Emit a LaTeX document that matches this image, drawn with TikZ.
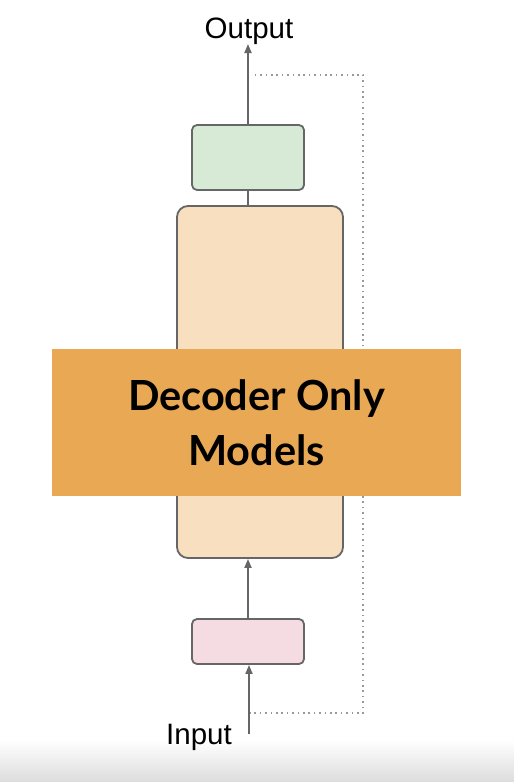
\documentclass[tikz,border=0pt]{standalone}
\usepackage{fontspec}
\setmainfont{Liberation Sans}
\newfontfamily\latofont{Lato}
\usetikzlibrary{arrows.meta}
\definecolor{edgegray}{HTML}{666666}
\definecolor{greenfill}{HTML}{D7EAD6}
\definecolor{pinkfill}{HTML}{F5DCE3}
\definecolor{peachfill}{HTML}{F7DFC0}
\definecolor{bannerfill}{HTML}{E9A954}
\definecolor{stripgray}{HTML}{DCDCDC}
\tikzset{
  blockbox/.style={draw=edgegray, line width=1.8pt, rounded corners=5pt},
  conn/.style={draw=edgegray, line width=1.8pt},
  arr/.style={conn, -{Triangle[length=9pt,width=7pt]}},
  dotline/.style={draw=gray!80, line width=1.8pt, dash pattern=on 1.6pt off 3.8pt},
  lbl/.style={font=\fontsize{29.5}{33}\selectfont, text=black, inner sep=0pt}
}
\begin{document}
\begin{tikzpicture}[x=1pt,y=-1pt]
\useasboundingbox (0,0) rectangle (514,782);
\fill[white] (0,0) rectangle (514,782);
\shade[top color=white, bottom color=stripgray] (0,740) rectangle (514,782);
% dotted feedback loop
\coordinate (dA) at (249,713);
\coordinate (dB) at (363,713);
\coordinate (dC) at (363,75);
\coordinate (dD) at (253,75);
\draw[dotline] (dA) -- (dB) -- (dC) -- (dD);
% boxes
\node[blockbox, fill=greenfill, minimum width=112pt, minimum height=65pt, inner sep=0pt] (green) at (248,157.5) {};
\node[blockbox, fill=peachfill, rounded corners=11pt, minimum width=166pt, minimum height=352pt, inner sep=0pt] (dec) at (260,382) {};
\node[blockbox, fill=pinkfill, minimum width=112pt, minimum height=45pt, inner sep=0pt] (pink) at (248,641.5) {};
% labels
\node[lbl, anchor=base] (out) at (249,38) {Output};
\node[lbl, anchor=base] (in) at (199,744) {Input};
\coordinate (inStart) at (249,734);
\coordinate (outEnd) at (248,44);
% connectors
\draw[arr] (green.north) -- (outEnd);
\draw[conn] (green.south) -- (green.south |- dec.north);
\draw[arr] (pink.north) -- (pink.north |- dec.south);
\draw[arr] (inStart) -- (inStart |- pink.south);
% banner
\node[fill=bannerfill, minimum width=409pt, minimum height=147pt, inner sep=0pt, align=center, text=black,
  font=\latofont\bfseries\fontsize{41.5}{55}\selectfont] (banner) at (256.5,422.5) {Decoder Only\\Models};
\end{tikzpicture}
\end{document}
